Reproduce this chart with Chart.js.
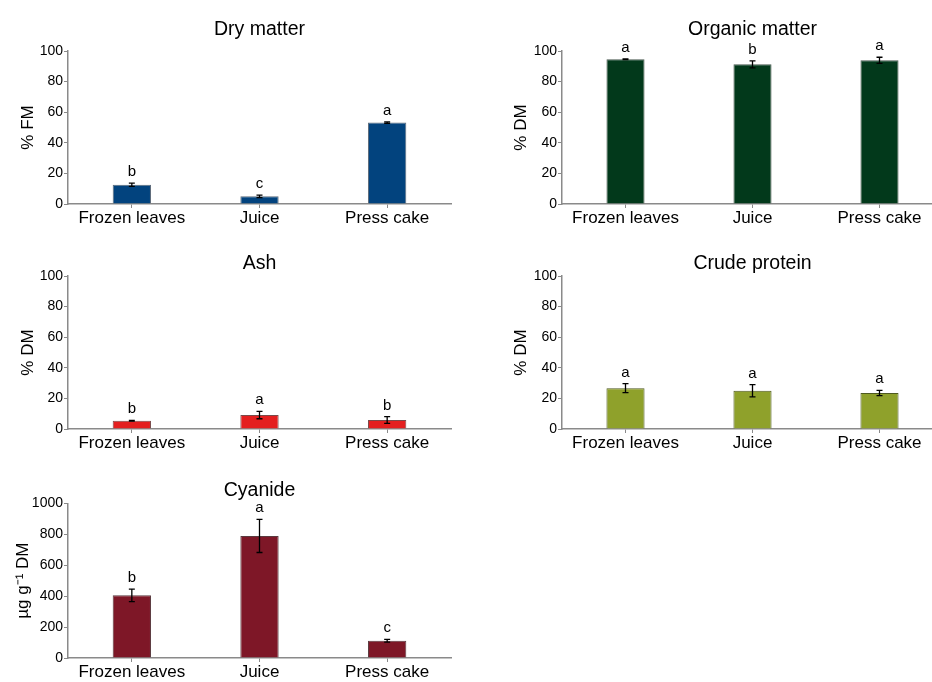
<!DOCTYPE html>
<html><head><meta charset="utf-8">
<script src="https://cdn.jsdelivr.net/npm/chart.js@4.4.1/dist/chart.umd.min.js"></script>
<style>
html,body{margin:0;padding:0;background:#fff;overflow:hidden;width:932px;height:682px;position:relative;}
canvas{position:absolute;}
</style></head><body>
<canvas id="c1" style="left:0px;top:0px" width="470" height="230"></canvas>
<canvas id="c2" style="left:470px;top:0px" width="490" height="230"></canvas>
<canvas id="c3" style="left:0px;top:230px" width="470" height="230"></canvas>
<canvas id="c4" style="left:470px;top:230px" width="490" height="230"></canvas>
<canvas id="c5" style="left:0px;top:460px" width="470" height="222"></canvas>
<script>
// ---- data ----
const categories = ["Frozen leaves", "Juice", "Press cake"];

const dryMatter = [12.6, 5.0, 53.2];
const dryMatterErr = [1.1, 0.8, 0.5];
const dryMatterLetters = ["b", "c", "a"];

const organicMatter = [94.6, 91.3, 93.9];
const organicMatterErr = [0.3, 2.3, 2.0];
const organicMatterLetters = ["a", "b", "a"];

const ash = [5.4, 9.1, 5.9];
const ashErr = [0.3, 2.4, 2.2];
const ashLetters = ["b", "a", "b"];

const crudeProtein = [26.7, 25.0, 23.5];
const crudeProteinErr = [2.9, 4.0, 1.7];
const crudeProteinLetters = ["a", "a", "a"];

const cyanide = [405, 789, 112];
const cyanideErr = [40, 107, 9];
const cyanideLetters = ["b", "a", "c"];

const percentTicks = [0, 20, 40, 60, 80, 100];
const cyanideTicks = [0, 200, 400, 600, 800, 1000];

// ---- rendering ----
const FONT = '"Liberation Sans", Arial, Helvetica, sans-serif';
const AXIS = '#8a8a8a';

const errLetters = {
  id: 'errLetters',
  afterDatasetsDraw(chart, args, opts) {
    const ctx = chart.ctx;
    const meta = chart.getDatasetMeta(0);
    const ys = chart.scales.y;
    const data = chart.data.datasets[0].data;
    meta.data.forEach((bar, i) => {
      const v = data[i], e = opts.errors[i];
      const yTop = ys.getPixelForValue(v + e);
      const yBot = ys.getPixelForValue(v - e);
      const x = bar.x;
      ctx.save();
      ctx.strokeStyle = '#000';
      ctx.lineWidth = 1.3;
      ctx.beginPath();
      ctx.moveTo(x, yTop); ctx.lineTo(x, yBot);
      ctx.moveTo(x - 3, yTop); ctx.lineTo(x + 3, yTop);
      ctx.moveTo(x - 3, yBot); ctx.lineTo(x + 3, yBot);
      ctx.stroke();
      ctx.fillStyle = '#000';
      ctx.font = '15px ' + FONT;
      ctx.textAlign = 'center';
      ctx.textBaseline = 'alphabetic';
      ctx.fillText(opts.letters[i], x, yTop - 7);
      ctx.restore();
    });
  }
};

function makePanel(id, cfg) {
  const ticksArr = cfg.ticks;
  new Chart(document.getElementById(id), {
    type: 'bar',
    data: {
      labels: categories,
      datasets: [{
        data: cfg.values,
        backgroundColor: cfg.color,
        borderColor: cfg.border,
        borderWidth: 1,
        categoryPercentage: 1,
        barPercentage: 0.3
      }]
    },
    options: {
      responsive: false,
      animation: false,
      events: [],
      layout: { padding: { left: 0, right: cfg.padRight, top: 0, bottom: 0 } },
      plugins: {
        legend: { display: false },
        tooltip: { enabled: false },
        title: {
          display: true,
          text: cfg.title,
          fullSize: false,
          color: '#000',
          font: { family: FONT, size: 19.5, weight: 'normal', lineHeight: 1.2 },
          padding: { top: cfg.titleTop, bottom: cfg.titleBottom }
        },
        errLetters: { errors: cfg.errors, letters: cfg.letters }
      },
      scales: {
        x: {
          grid: { display: true, drawOnChartArea: false, drawTicks: true, tickLength: 4, offset: false, color: AXIS, lineWidth: 1 },
          border: { display: true, color: AXIS, width: 1.5 },
          ticks: { color: '#000', padding: 0, maxRotation: 0, font: { family: FONT, size: 17 } },
          afterFit: s => { s.height = cfg.xHeight; }
        },
        y: {
          min: ticksArr[0],
          max: ticksArr[ticksArr.length - 1],
          afterBuildTicks: s => { s.ticks = ticksArr.map(v => ({ value: v })); },
          grid: { display: true, drawOnChartArea: false, drawTicks: true, tickLength: 4, color: AXIS, lineWidth: 1 },
          border: { display: true, color: AXIS, width: 1.5 },
          ticks: { color: '#000', padding: 1, font: { family: FONT, size: 14 }, callback: v => String(v) },
          title: {
            display: true,
            text: cfg.yTitle,
            color: '#000',
            font: { family: FONT, size: 17, lineHeight: 1.2 },
            padding: { top: cfg.yTitlePad, bottom: 0 }
          },
          afterFit: s => { s.width = cfg.yWidth; }
        }
      }
    },
    plugins: [errLetters]
  });
}

makePanel('c1', { title: 'Dry matter', yTitle: '% FM', values: dryMatter, errors: dryMatterErr, letters: dryMatterLetters,
  ticks: percentTicks, color: '#02437e', border: '#5d6b7a', yWidth: 68, padRight: 19, xHeight: 26, titleTop: 18.3, titleBottom: 9.3, yTitlePad: 18 });
makePanel('c2', { title: 'Organic matter', yTitle: '% DM', values: organicMatter, errors: organicMatterErr, letters: organicMatterLetters,
  ticks: percentTicks, color: '#02391b', border: '#4a5a50', yWidth: 92, padRight: 17, xHeight: 26, titleTop: 18.3, titleBottom: 9.3, yTitlePad: 41 });
makePanel('c3', { title: 'Ash', yTitle: '% DM', values: ash, errors: ashErr, letters: ashLetters,
  ticks: percentTicks, color: '#e41f1f', border: '#7a4a4a', yWidth: 68, padRight: 19, xHeight: 31, titleTop: 21.5, titleBottom: 1.1, yTitlePad: 18 });
makePanel('c4', { title: 'Crude protein', yTitle: '% DM', values: crudeProtein, errors: crudeProteinErr, letters: crudeProteinLetters,
  ticks: percentTicks, color: '#8fa12b', border: '#4f5a20', yWidth: 92, padRight: 17, xHeight: 31, titleTop: 21.5, titleBottom: 1.1, yTitlePad: 41 });
makePanel('c5', { title: 'Cyanide', yTitle: 'µg g⁻¹ DM', values: cyanide, errors: cyanideErr, letters: cyanideLetters,
  ticks: cyanideTicks, color: '#7e1727', border: '#5a3a3f', yWidth: 68, padRight: 19, xHeight: 24, titleTop: 18.8, titleBottom: 1.1, yTitlePad: 13 });
</script>
</body></html>
